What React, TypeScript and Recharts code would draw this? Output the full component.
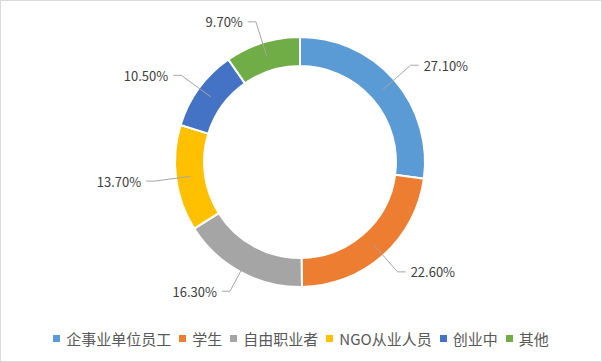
import { PieChart, Pie, Cell, Legend } from "recharts";

// ─── Data ────────────────────────────────────────────────────────────────────

const categories = ["企事业单位员工", "学生", "自由职业者", "NGO从业人员", "创业中", "其他"];
const shares = [27.1, 22.6, 16.3, 13.7, 10.5, 9.7];
const colors = ["#5B9BD5", "#ED7D31", "#A5A5A5", "#FFC000", "#4472C4", "#70AD47"];

const rows = categories.map((name, i) => ({ name, value: shares[i] }));

const RAD = Math.PI / 180;
const FONT = '"Noto Sans CJK SC", "Noto Sans", sans-serif';

// ─── Label with leader line ──────────────────────────────────────────────────

function SliceLabel(props: any) {
  const { cx, cy, midAngle, innerRadius, outerRadius, value } = props;
  const pt = (r: number) => ({
    x: cx + Math.cos(-midAngle * RAD) * r,
    y: cy + Math.sin(-midAngle * RAD) * r,
  });
  const start = pt((innerRadius + outerRadius) / 2);
  const elbow = pt(outerRadius + 22);
  const right = elbow.x >= cx;
  const endX = elbow.x + (right ? 8 : -8);
  return (
    <g>
      <polyline
        points={`${start.x},${start.y} ${elbow.x},${elbow.y} ${endX},${elbow.y}`}
        fill="none"
        stroke="#A6A6A6"
        strokeWidth={1}
      />
      <text
        x={endX + (right ? 5 : -5)}
        y={elbow.y}
        textAnchor={right ? "start" : "end"}
        dominantBaseline="central"
        fontSize={13}
        fill="#404040"
        fontFamily={FONT}
      >
        {`${value.toFixed(2)}%`}
      </text>
    </g>
  );
}

// ─── Legend (kept in data order) ─────────────────────────────────────────────

function LegendRow() {
  return (
    <div
      style={{
        display: "flex",
        justifyContent: "center",
        alignItems: "center",
        fontFamily: FONT,
        fontSize: 15,
        color: "#595959",
      }}
    >
      {categories.map((name, i) => (
        <span
          key={name}
          style={{
            display: "flex",
            alignItems: "center",
            marginRight: i < categories.length - 1 ? 8 : 0,
          }}
        >
          <span
            style={{
              width: 7,
              height: 7,
              background: colors[i],
              display: "inline-block",
              marginRight: 6,
            }}
          />
          {name}
        </span>
      ))}
    </div>
  );
}

// ─── Component ───────────────────────────────────────────────────────────────

export default function App() {
  return (
    <div
      style={{
        position: "absolute",
        left: 0,
        top: 0,
        width: 602,
        height: 362,
        boxSizing: "border-box",
        border: "1px solid #D9D9D9",
        background: "#fff",
      }}
    >
      <PieChart
        width={600}
        height={360}
        margin={{ top: 0, right: 0, bottom: 0, left: 0 }}
        style={{ position: "absolute", left: 0, top: 0 }}
      >
        <Pie
          data={rows}
          dataKey="value"
          nameKey="name"
          cx={299}
          cy={161}
          innerRadius={96}
          outerRadius={125}
          startAngle={90}
          endAngle={-270}
          stroke="#fff"
          strokeWidth={2}
          label={SliceLabel}
          labelLine={false}
          isAnimationActive={false}
        >
          {rows.map((r, i) => (
            <Cell key={r.name} fill={colors[i]} />
          ))}
        </Pie>
        <Legend
          content={<LegendRow />}
          verticalAlign="bottom"
          wrapperStyle={{ bottom: 12, left: 0, width: 600 }}
        />
      </PieChart>
    </div>
  );
}
